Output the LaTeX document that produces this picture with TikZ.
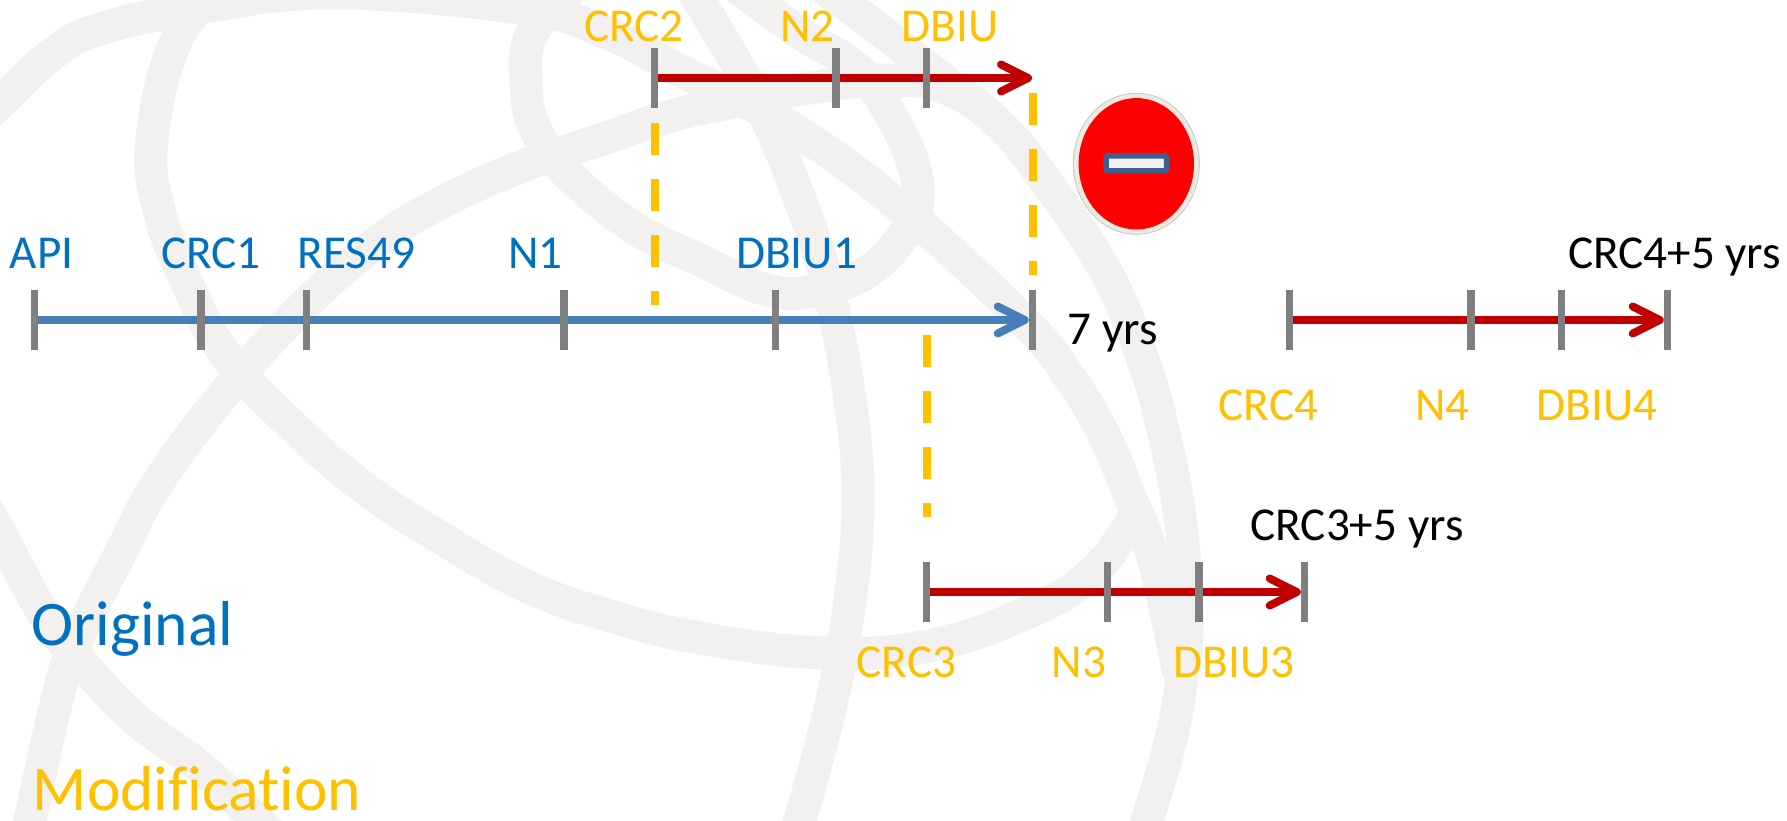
\documentclass[tikz,border=0pt]{standalone}
\usepackage{fontspec}
\setmainfont[Ligatures=NoCommon]{Carlito}
\usetikzlibrary{arrows.meta}
\definecolor{bandgray}{HTML}{F2F1EF}
\definecolor{tickgray}{HTML}{7F7F7F}
\definecolor{lineblue}{HTML}{4A7EBB}
\definecolor{linered}{HTML}{C00000}
\definecolor{txtblue}{HTML}{0070C0}
\definecolor{txtyellow}{HTML}{FFC000}
\definecolor{signrim}{HTML}{EEECE1}
\definecolor{signbar}{HTML}{3E5F8E}
\pgfdeclarelayer{under}
\pgfsetlayers{under,main}
\tikzset{
  x=1pt,y=-1pt,
  band/.style={draw=bandgray,line width=33pt,line cap=round,line join=round},
  tick/.style={fill=tickgray,draw=none,minimum width=7.5pt,minimum height=60pt,inner sep=0pt,outer sep=0pt,rectangle},
  lab/.style={anchor=base,inner sep=0pt,outer sep=0pt,font=\fontsize{47.2}{50}\selectfont},
  bluelab/.style={lab,text=txtblue},
  yellab/.style={lab,text=txtyellow},
  blacklab/.style={lab,text=black},
  biglab/.style={anchor=base,inner sep=0pt,outer sep=0pt,font=\fontsize{63.5}{66}\selectfont},
  timeline/.style={line width=8pt,-{Straight Barb[length=27pt,width=27pt,line width=8pt,round]}},
  dashline/.style={draw=txtyellow,line width=8pt,dash pattern=on 32pt off 24pt},
}
\begin{document}
\begin{tikzpicture}
\useasboundingbox (0,0) rectangle (1787,821);
\begin{pgfonlayer}{under}
\begin{scope}
\clip (0,0) rectangle (1787,821);
% A + G
\draw[band] plot[smooth,tension=0.7] coordinates {(-30,130) (0,103) (50,56) (100,29) (200,8) (333,-7) (520,8) (600,30) (683,72) (790,127) (900,207) (1020,317) (1070,378) (1105,437) (1130,497) (1146,535) (1160,585) (1178,670)};
% D + H
\draw[band] plot[smooth,tension=0.7] coordinates {(22,850) (30,820) (57,700) (77,640) (122,550) (157,484) (219,400) (293,317) (367,250) (433,207) (520,167) (600,140) (667,117) (733,102) (810,88) (883,80) (950,90) (1005,130) (1052,190) (1093,250) (1120,300) (1142,357) (1160,417) (1180,517) (1187,617) (1182,677) (1170,743) (1147,821) (1135,860)};
% K
\draw[band] plot[smooth,tension=0.7] coordinates {(800,-30) (880,30) (950,85) (975,103)};
% J + E loop
\draw[band] plot[smooth,tension=0.7] coordinates {(720,-25) (800,33) (850,63) (880,97) (912,160) (917,207) (900,240) (867,272) (820,290) (767,290) (700,260) (633,227) (567,173) (535,128) (526,83) (532,33) (570,-10)};
% B
\draw[band] plot[smooth,tension=0.7] coordinates {(240,-30) (180,33) (152,140) (160,213) (187,283) (227,357) (300,433) (367,490) (433,533) (520,583) (600,613) (700,638) (827,653) (933,645) (1033,610) (1090,575) (1125,532) (1135,515)};
% F
\draw[band] plot[smooth,tension=0.7] coordinates {(680,-30) (733,57) (767,120) (800,200) (827,283) (850,400) (858,500) (850,600) (832,700) (800,820) (785,860)};
% C
\draw[band] plot[smooth,tension=0.7] coordinates {(-25,490) (0,533) (43,613) (77,657) (133,717) (200,767) (257,820) (290,850)};
\end{scope}
\end{pgfonlayer}

% ticks: main line
\node[tick] (tapi) at (34.5,320) {};
\node[tick] (tcrc1) at (201,320) {};
\node[tick] (tres) at (306.5,320) {};
\node[tick] (tn1) at (564,320) {};
\node[tick] (tdb1) at (775.5,320) {};
\node[tick] (tend) at (1032.5,320) {};
% ticks: top
\node[tick] (tcrc2) at (654.5,78) {};
\node[tick] (tn2) at (836,78) {};
\node[tick] (tdb2) at (926.5,78) {};
\coordinate (topend) at (1032,78);
% ticks: CRC3
\node[tick] (tcrc3) at (926.5,592) {};
\node[tick] (tn3) at (1107.5,592) {};
\node[tick] (tdb3) at (1199,592) {};
\node[tick] (tend3) at (1304.5,592) {};
% ticks: CRC4
\node[tick] (tcrc4) at (1289.5,320) {};
\node[tick] (tn4) at (1471,320) {};
\node[tick] (tdb4) at (1561.5,320) {};
\node[tick] (tend4) at (1667.5,320) {};

\begin{pgfonlayer}{under}
\draw[timeline,draw=lineblue] (tapi.center) -- (tend.west);
\draw[timeline,draw=linered] (tcrc2.center) -- (topend);
\draw[timeline,draw=linered] (tcrc3.center) -- (tend3.west);
\draw[timeline,draw=linered] (tcrc4.center) -- (tend4.west);
\end{pgfonlayer}

% dashed guides
\coordinate (d1a) at (654.5,123); \coordinate (d1b) at (654.5,305);
\coordinate (d2a) at (1032.5,93); \coordinate (d2b) at (1032.5,275);
\coordinate (d3a) at (926.5,335); \coordinate (d3b) at (926.5,517);
\draw[dashline] (d1a) -- (d1b);
\draw[dashline] (d2a) -- (d2b);
\draw[dashline] (d3a) -- (d3b);

% labels
\node[bluelab] (lapi) at (41.5,268) {API};
\node[bluelab] (lcrc1) at (211,268) {CRC1};
\node[bluelab] (lres) at (356.5,268) {RES49};
\node[bluelab] (ln1) at (535.5,268) {N1};
\node[bluelab] (ldb1) at (796.5,268) {DBIU1};
\node[yellab] (lcrc2) at (634,42) {CRC2};
\node[yellab] (ln2) at (807.5,42) {N2};
\node[yellab] (ldb2) at (950,42) {DBIU};
\node[blacklab] (l7) at (1113,344) {7 yrs};
\node[blacklab] (lc4y) at (1674.5,268) {CRC4+5 yrs};
\node[yellab] (lcrc4) at (1268.5,420) {CRC4};
\node[yellab] (ln4) at (1442.5,420) {N4};
\node[yellab] (ldb4) at (1597,420) {DBIU4};
\node[blacklab] (lc3y) at (1357,540.5) {CRC3+5 yrs};
\node[yellab] (lcrc3) at (906.5,677) {CRC3};
\node[yellab] (ln3) at (1079,677) {N3};
\node[yellab] (ldb3) at (1234,677) {DBIU3};
\node[biglab,text=txtblue] (lorig) at (132.5,645) {Original};
\node[biglab,text=txtyellow] (lmod) at (197,810) {Modification};

% no-entry sign
\fill[signrim,draw=black!20,line width=1pt] (1136.3,163.8) ellipse [x radius=63,y radius=70.5];
\fill[red] (1136.3,163.8) ellipse [x radius=57.7,y radius=65.7];
\draw[signbar,fill=white!95!black,line width=5.5pt,rounded corners=1.5pt] (1106,156) rectangle (1166.6,171);
\end{tikzpicture}
\end{document}
